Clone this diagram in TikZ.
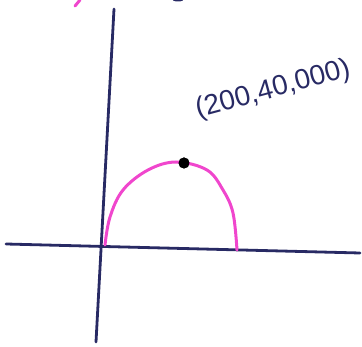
\documentclass[tikz,border=0pt]{standalone}
\usepackage{fontspec}
\setmainfont{Liberation Sans}
\usetikzlibrary{positioning, calc}
\definecolor{penblue}{RGB}{40,42,100}
\definecolor{penpink}{RGB}{240,70,205}
\tikzset{
    axisline/.style={penblue, line width=2.8pt, line cap=round},
    pinkline/.style={penpink, line width=3pt, line cap=round},
    peakdot/.style={circle, fill=black, inner sep=0pt, minimum size=11pt},
    handlabel/.style={penblue, font=\fontsize{28}{30}\selectfont, inner sep=0pt},
}

\begin{document}
\begin{tikzpicture}[x=1pt, y=-1pt]
    \useasboundingbox (0,0) rectangle (362,347);
    % axes
    \coordinate (xleft) at (6,244);
    \coordinate (xright) at (360,253);
    \coordinate (ytop) at (114,9);
    \coordinate (ybottom) at (96,342);
    \draw[axisline] (xleft) -- (xright);
    \draw[axisline] (ytop) -- (ybottom);
    % parabola
    \coordinate (start) at (105,245);
    \coordinate (finish) at (237,250);
    \node[peakdot] (peak) at (184,163) {};
    \draw[pinkline] plot[smooth, tension=0.6] coordinates {(start) (110,217) (123,190) (148,170) (176,162) (207,170) (223,190) (233,213) (finish)};
    \node[peakdot] at (peak) {};
    \node[handlabel, rotate=15] (peaklabel) at (273,90) {(200,40,000)};
    % cut-off marks at the top edge
    \draw[pinkline] (75,6) -- (80,0);
    \fill[penblue] (178,-1) ellipse (6pt and 2.5pt);
\end{tikzpicture}
\end{document}
